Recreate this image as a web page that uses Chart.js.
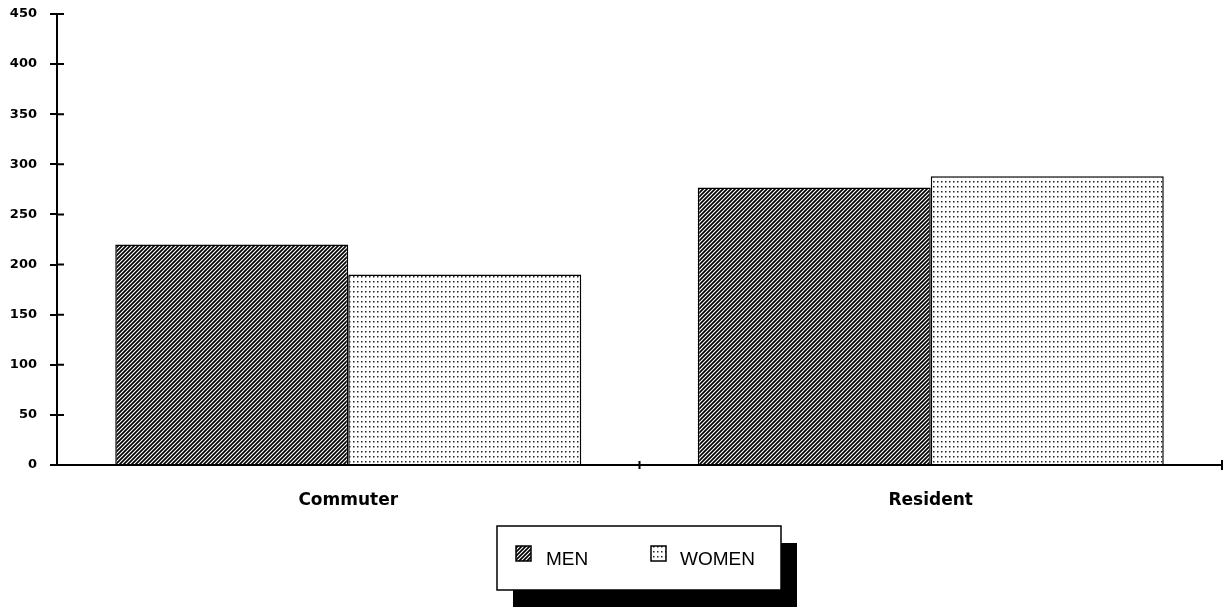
<!DOCTYPE html>
<html>
<head>
<meta charset="utf-8">
<style>
  html, body { margin: 0; padding: 0; background: #fff; }
  #wrap { width: 1230px; height: 609px; }
</style>
<script src="https://cdn.jsdelivr.net/npm/chart.js@4/dist/chart.umd.min.js"></script>
</head>
<body>
<div id="wrap"><canvas id="barChart" width="1230" height="609"></canvas></div>
<script>
// values
const categories = ['Commuter', 'Resident'];
const menValues = [220, 277];
const womenValues = [190, 288];
const seriesLabels = ['MEN', 'WOMEN'];

// hatched fill for MEN
function makeHatch() {
    const c = document.createElement('canvas');
    c.width = 4; c.height = 4;
    const g = c.getContext('2d');
    g.fillStyle = '#fff';
    g.fillRect(0, 0, 4, 4);
    g.strokeStyle = '#000';
    g.lineWidth = 1.7;
    g.beginPath();
    g.moveTo(-1, 5); g.lineTo(5, -1);
    g.moveTo(-1, 1); g.lineTo(1, -1);
    g.moveTo(3, 5); g.lineTo(5, 3);
    g.stroke();
    return g.createPattern(c, 'repeat');
}

// dotted fill for WOMEN
function makeDots() {
    const c = document.createElement('canvas');
    c.width = 4; c.height = 5;
    const g = c.getContext('2d');
    g.fillStyle = '#fff';
    g.fillRect(0, 0, 4, 5);
    g.fillStyle = '#222';
    g.fillRect(1, 1, 1.5, 1.5);
    return g.createPattern(c, 'repeat');
}

const hatch = makeHatch();
const dots = makeDots();

// y ticks cross the axis, draw the inner half
const crossTicks = {
    id: 'crossTicks',
    afterDraw(chart) {
        const ctx = chart.ctx;
        const y = chart.scales.y;
        const x = chart.scales.x;
        ctx.save();
        ctx.strokeStyle = '#000';
        ctx.lineWidth = 2;
        ctx.beginPath();
        y.ticks.forEach(t => {
            const py = y.getPixelForValue(t.value);
            ctx.moveTo(y.right, py);
            ctx.lineTo(y.right + 7, py);
        });
        ctx.moveTo(x.left + x.width / 2, x.top + 4);
        ctx.lineTo(x.left + x.width / 2, x.top - 4);
        ctx.moveTo(x.right, x.top + 5);
        ctx.lineTo(x.right, x.top - 5);
        ctx.stroke();
        ctx.restore();
    }
};

// boxed legend with a drop shadow
const boxLegend = {
    id: 'boxLegend',
    afterDraw(chart) {
        const ctx = chart.ctx;
        const left = 497, top = 526, w = 284, h = 64;
        ctx.save();
        ctx.fillStyle = '#000';
        ctx.fillRect(left + 16, top + 17, w, h);
        ctx.fillStyle = '#fff';
        ctx.fillRect(left, top, w, h);
        ctx.strokeStyle = '#000';
        ctx.lineWidth = 1.5;
        ctx.strokeRect(left, top, w, h);
        const items = [[516, 546], [651, 680]];
        chart.data.datasets.forEach((ds, i) => {
            const [sx, tx] = items[i];
            ctx.fillStyle = ds.backgroundColor;
            ctx.fillRect(sx, 546, 15, 15);
            ctx.lineWidth = 1.5;
            ctx.strokeRect(sx, 546, 15, 15);
            ctx.fillStyle = '#000';
            ctx.font = '19px "Liberation Sans", Arial, sans-serif';
            ctx.textBaseline = 'middle';
            ctx.fillText(ds.label, tx, 560);
        });
        ctx.restore();
    }
};

new Chart(document.getElementById('barChart').getContext('2d'), {
    type: 'bar',
    data: {
        labels: categories,
        datasets: [
            {
                label: seriesLabels[0],
                data: menValues,
                backgroundColor: hatch,
                borderColor: '#000',
                borderWidth: 1.5,
                borderSkipped: 'bottom',
                categoryPercentage: 0.8,
                barPercentage: 1.0,
            },
            {
                label: seriesLabels[1],
                data: womenValues,
                backgroundColor: dots,
                borderColor: '#000',
                borderWidth: 1.5,
                borderSkipped: 'bottom',
                categoryPercentage: 0.8,
                barPercentage: 1.0,
            },
        ],
    },
    options: {
        responsive: false,
        animation: false,
        devicePixelRatio: 1,
        layout: { padding: { top: 14, right: 8, left: 0, bottom: 0 } },
        plugins: {
            legend: { display: false },
            tooltip: { enabled: false },
        },
        scales: {
            x: {
                offset: true,
                grid: { offset: true, drawOnChartArea: false, tickLength: 0, color: '#000', lineWidth: 2 },
                border: { color: '#000', width: 2 },
                ticks: {
                    color: '#000',
                    padding: 25,
                    font: { family: '"DejaVu Sans", sans-serif', size: 17, weight: 'bold' },
                },
                afterFit(scale) { scale.height = 144; },
            },
            y: {
                min: 0,
                max: 450,
                ticks: {
                    stepSize: 50,
                    color: '#000',
                    padding: 13,
                    font: { family: '"DejaVu Sans", sans-serif', size: 13, weight: 'bold' },
                },
                grid: { drawOnChartArea: false, tickLength: 7, color: '#000', lineWidth: 2 },
                border: { color: '#000', width: 2 },
                afterFit(scale) {
                    scale.width = 57;
                    scale.paddingTop = 0;
                    scale.paddingBottom = 0;
                },
            },
        },
    },
    plugins: [crossTicks, boxLegend],
});
</script>
</body>
</html>
